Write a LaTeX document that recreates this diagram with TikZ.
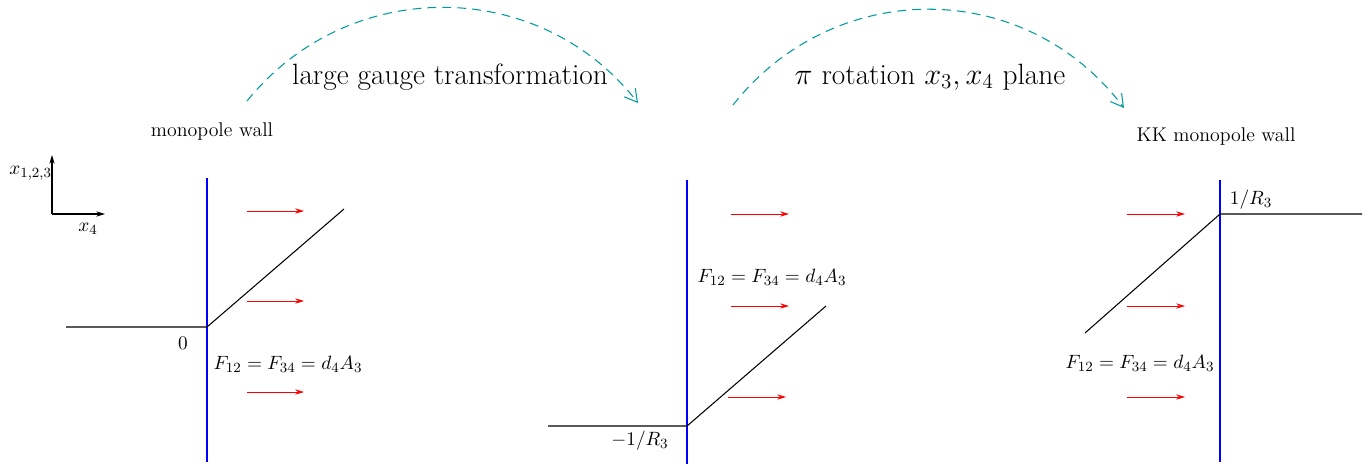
\documentclass[tikz,border=0pt]{standalone}
\usepackage{tikz}
\usetikzlibrary{positioning, arrows.meta, calc}
\usepackage{amsmath}
\usepackage{xcolor}
\definecolor{wallblue}{HTML}{0000FF}
\definecolor{fluxred}{HTML}{FF0000}
\definecolor{mapteal}{HTML}{009B9B}

\begin{document}
\begin{tikzpicture}[x=0.02cm, y=-0.02cm,
    every node/.style={font=\fontsize{11.2}{13.5}\selectfont},
    wall/.style={draw=wallblue, line width=1.2pt},
    prof/.style={draw=black, line width=0.6pt},
    flux/.style={-{Stealth[length=5pt,width=3pt]}, color=fluxred, line width=0.45pt},
    axis/.style={-{Stealth[length=5pt,width=3pt]}, color=black, line width=0.6pt},
    flip/.style={-{Straight Barb[length=7pt,width=8pt]}, color=mapteal,
                 dash pattern=on 5pt off 3.5pt, line width=0.6pt},
    title/.style={font=\fontsize{16.7}{19}\selectfont, inner sep=1pt},
    walllabel/.style={font=\fontsize{11.3}{13}\selectfont}]
  \useasboundingbox (0,0) rectangle (1371,466);

  % axes
  \coordinate (o) at (52,214);
  \coordinate (ax3) at (52,155);
  \coordinate (ax4) at (105,214);
  \draw[axis] (o) -- (ax3);
  \draw[axis] (o) -- (ax4);
  \node[anchor=east, inner sep=1pt] (lx3) at (54,173) {$x_{1,2,3}$};
  \node (lx4) at (88,229) {$x_4$};

  % monopole wall
  \coordinate (w1t) at (207,178);
  \coordinate (w1b) at (207,462);
  \coordinate (p1l) at (66,327);
  \coordinate (p1o) at (207,327);
  \coordinate (p1r) at (344,209);
  \draw[wall] (w1t) -- (w1b);
  \draw[prof] (p1l) -- (p1o) -- (p1r);
  \node (z1) at (183,343) {$0$};
  \node (f1) at (288,364) {$F_{12}=F_{34}=d_4A_3$};
  \node[walllabel] (m1) at (212,132) {monopole wall};
  \foreach \y [count=\i] in {211,301,392} {
    \coordinate (a1s\i) at (247,\y);
    \coordinate (a1e\i) at (304,\y);
    \draw[flux] (a1s\i) -- (a1e\i);
  }

  % after gauge transformation
  \coordinate (w2t) at (687,180);
  \coordinate (w2b) at (687,464);
  \coordinate (p2l) at (548,426);
  \coordinate (p2o) at (687,426);
  \coordinate (p2r) at (826,306);
  \draw[wall] (w2t) -- (w2b);
  \draw[prof] (p2l) -- (p2o) -- (p2r);
  \node (z2) at (640,441) {$-1/R_3$};
  \node (f2) at (772,277) {$F_{12}=F_{34}=d_4A_3$};
  \foreach \y/\xa [count=\i] in {214/731,306/731,397/728} {
    \coordinate (a2s\i) at (\xa,\y);
    \coordinate (a2e\i) at (\xa+58,\y);
    \draw[flux] (a2s\i) -- (a2e\i);
  }

  % KK monopole wall
  \coordinate (w3t) at (1220,180);
  \coordinate (w3b) at (1220,462);
  \coordinate (p3l) at (1085,333);
  \coordinate (p3o) at (1220,214);
  \coordinate (p3r) at (1362,214);
  \draw[wall] (w3t) -- (w3b);
  \draw[prof] (p3l) -- (p3o) -- (p3r);
  \node (z3) at (1251,200) {$1/R_3$};
  \node (f3) at (1140,363) {$F_{12}=F_{34}=d_4A_3$};
  \node[walllabel] (m3) at (1216,137) {KK monopole wall};
  \foreach \y [count=\i] in {214,306,397} {
    \coordinate (a3s\i) at (1127,\y);
    \coordinate (a3e\i) at (1185,\y);
    \draw[flux] (a3s\i) -- (a3e\i);
  }

  % maps between pictures
  \coordinate (g1s) at (247,101);
  \coordinate (g1e) at (638,103);
  \coordinate (g2s) at (733,105);
  \coordinate (g2e) at (1124,108);
  \draw[flip] (g1s) .. controls +(101,-125) and +(-99,-127) .. (g1e);
  \draw[flip] (g2s) .. controls +(101,-128) and +(-99,-131) .. (g2e);
  \node[title] (t1) at (450,77) {large gauge transformation};
  \node[title] (t2) at (930,77) {$\pi$ rotation $x_3,x_4$ plane};
\end{tikzpicture}
\end{document}
